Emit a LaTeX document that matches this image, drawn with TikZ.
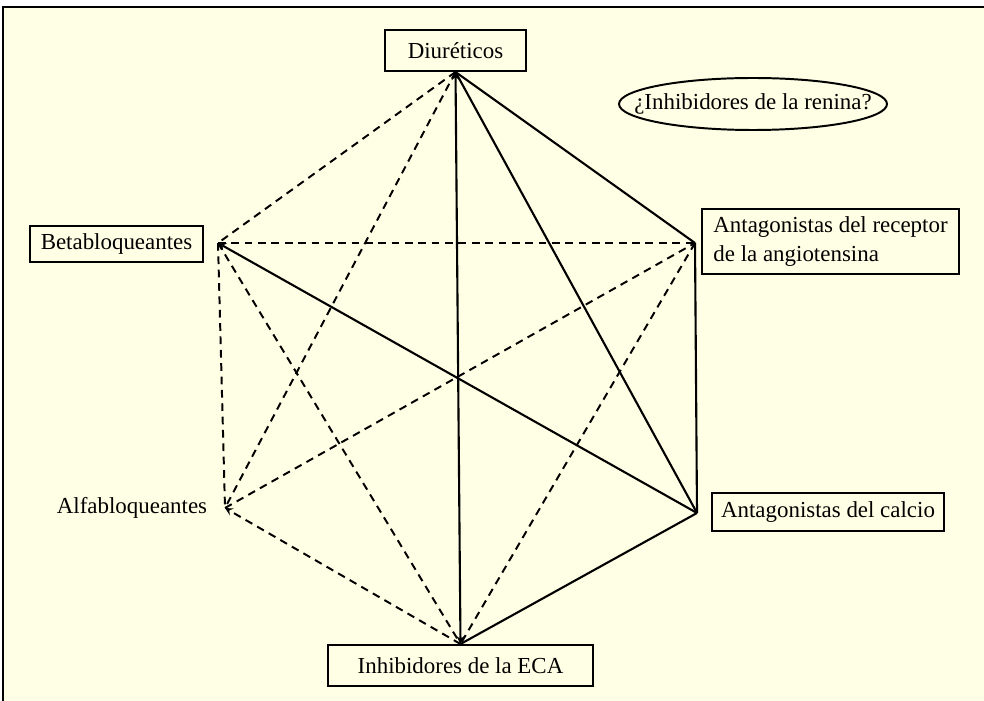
\documentclass[tikz,border=0pt]{standalone}
\usepackage{fontspec}
\setmainfont{Liberation Serif}
\usetikzlibrary{shapes, arrows}
\definecolor{cream}{RGB}{255,255,230}

\begin{document}
\begin{tikzpicture}[x=0.025cm, y=-0.025cm, font=\fontsize{16.3}{21}\selectfont]
    \tikzstyle{drug} = [rectangle, draw, line width=1.4pt, inner sep=0pt, text centered]
    \tikzstyle{solidline} = [line width=1.5pt]
    \tikzstyle{dashline} = [line width=1.4pt, dash pattern=on 5.5pt off 4pt]
    \tikzstyle{arrow} = [solidline, ->, >=stealth]

    \useasboundingbox (0,0) rectangle (984,701);
    \fill[cream] (3,7) rectangle (984,701);
    \draw[line width=1.6pt] (3,701) -- (3,7) -- (984,7);

    \node (diur) [drug, minimum width=3.525cm, minimum height=1.025cm] at (455.5,50.5) {Diuréticos};
    \node (renina) at (753,104) {¿Inhibidores de la renina?};
    \draw [line width=1.4pt] (renina.center) ellipse [x radius=134, y radius=26];
    \node (beta) [drug, minimum width=4.325cm, minimum height=0.9cm] at (116.5,244) {Betabloqueantes};
    \node (ara) [drug, minimum width=6.425cm, minimum height=1.625cm, align=left, inner xsep=0.28cm, anchor=west] at (701,241.5) {Antagonistas del receptor\\de la angiotensina};
    \node (alfa) at (132,508) {Alfabloqueantes};
    \node (calcio) [drug, minimum width=5.8cm, minimum height=0.95cm] at (828,512) {Antagonistas del calcio};
    \node (eca) [drug, minimum width=6.625cm, minimum height=1.025cm] at (460.5,665.5) {Inhibidores de la ECA};

    \coordinate (b) at (218,243);
    \coordinate (ar) at (695,243);
    \coordinate (a) at (225,508);
    \coordinate (ac) at (697,513);

    % Solid lines
    \draw [arrow, <->] (diur.south) -- (eca.north);
    \draw [solidline] (diur.south) -- (ar);
    \draw [solidline] (diur.south) -- (ac);
    \draw [arrow] (ac) -- (b);
    \draw [solidline] (ar) -- (ac);
    \draw [solidline] (ac) -- (eca.north);

    % Dashed lines
    \draw [dashline] (diur.south) -- (b);
    \draw [dashline] (diur.south) -- (a);
    \draw [dashline] (b) -- (ar);
    \draw [dashline] (b) -- (a);
    \draw [dashline] (b) -- (eca.north);
    \draw [dashline] (a) -- (ar);
    \draw [dashline, ->, >=stealth] (eca.north) -- (a);
    \draw [dashline] (ar) -- (eca.north);
\end{tikzpicture}
\end{document}
